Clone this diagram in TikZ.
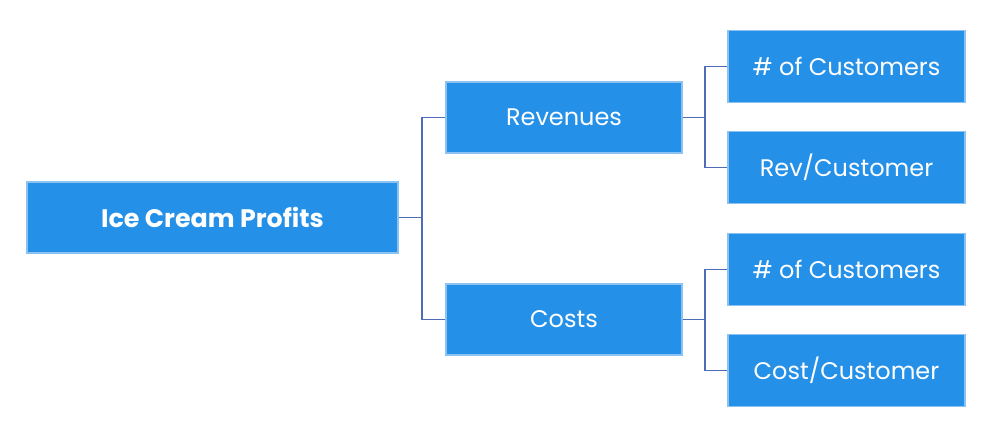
\documentclass[tikz,border=0pt]{standalone}
\usepackage{fontspec}
\setmainfont{Poppins}
\usetikzlibrary{positioning}
\definecolor{boxblue}{HTML}{2590E8}
\definecolor{boxedge}{HTML}{8CC2F2}
\definecolor{linkblue}{HTML}{4E6DB8}

\begin{document}
\begin{tikzpicture}[x=0.75pt, y=-0.75pt,
  every node/.style={rectangle, fill=boxblue, draw=boxedge, line width=0.8pt, text=white, font=\fontsize{18}{20}\selectfont, inner sep=0pt},
  rootbox/.style={minimum width=278.25pt, minimum height=53.25pt, font=\fontsize{19}{21}\selectfont\bfseries},
  midbox/.style={minimum width=177pt, minimum height=53.25pt},
  leafbox/.style={minimum width=177.75pt, minimum height=53.5pt},
  link/.style={draw=linkblue, line width=1pt}]
\useasboundingbox (0,0) rectangle (1000,427);

\node[rootbox] (profits) at (212.5,217.5) {Ice Cream Profits};
\node[midbox] (rev) at (564,117.5) {Revenues};
\node[midbox] (cost) at (564,319.5) {Costs};
\node[leafbox] (custA) at (846.5,66.5) {\# of Customers};
\node[leafbox] (revcust) at (846.5,167.5) {Rev/Customer};
\node[leafbox] (custB) at (846.5,269.5) {\# of Customers};
\node[leafbox] (costcust) at (846.5,370.5) {Cost/Customer};

\coordinate (busL) at (422,217.5);
\coordinate (busR1) at (705,117.5);
\coordinate (busR2) at (705,319.5);

\draw[link] (profits.east) -- (busL);
\draw[link] (busL) |- (rev.west);
\draw[link] (busL) |- (cost.west);
\draw[link] (rev.east) -- (busR1);
\draw[link] (busR1) |- (custA.west);
\draw[link] (busR1) |- (revcust.west);
\draw[link] (cost.east) -- (busR2);
\draw[link] (busR2) |- (custB.west);
\draw[link] (busR2) |- (costcust.west);
\end{tikzpicture}
\end{document}
